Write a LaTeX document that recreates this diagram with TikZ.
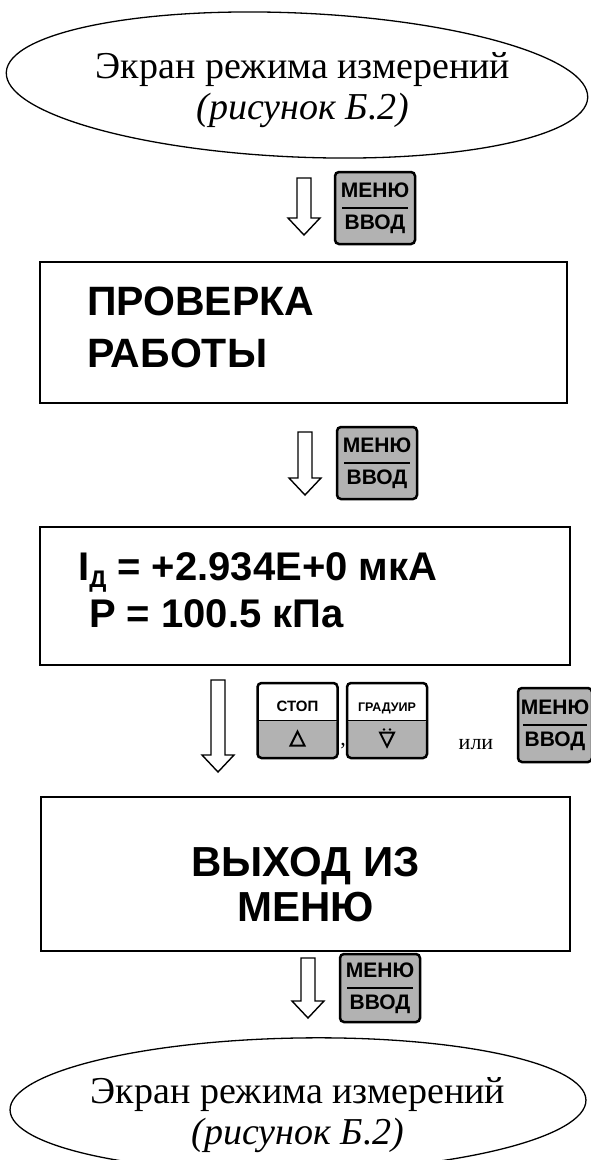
\documentclass[tikz,border=0pt]{standalone}
\usepackage{fontspec}
\setmainfont{Liberation Serif}
\newfontfamily\arialfont{Liberation Sans}
\usetikzlibrary{shapes.geometric,calc}
\definecolor{keygray}{RGB}{178,178,178}

% hollow block arrow pointing down, from #1 (top) to #2 (tip)
\newcommand{\hollowarrow}[2]{%
  \draw[arrowline] ($(#1)+(-7,0)$) -- ($(#2)+(-7,-17)$) -- ($(#2)+(-16,-17)$) -- (#2)
    -- ($(#2)+(16,-17)$) -- ($(#2)+(7,-17)$) -- ($(#1)+(7,0)$) -- cycle;}

\begin{document}
\begin{tikzpicture}[x=1pt, y=-1pt,
    screen/.style={draw, ellipse, line width=1.3pt, inner sep=0pt},
    screentext/.style={align=center, font=\fontsize{38}{41}\selectfont},
    panel/.style={draw, line width=2.8pt, inner sep=0pt},
    paneltext/.style={anchor=base west, inner sep=0pt, font=\arialfont\bfseries\fontsize{41}{41}\selectfont},
    arrowline/.style={line width=1.4pt, line join=miter},
    keyfont/.style={font=\arialfont\bfseries\fontsize{21}{32}\selectfont},
    menukey/.style={draw, line width=2.5pt, rounded corners=4pt, fill=keygray,
      minimum width=80pt, minimum height=72pt, inner sep=0pt, align=center, keyfont},
    splitkey/.style={draw, line width=2.5pt, rounded corners=4pt, fill=white,
      minimum width=80pt, minimum height=75pt, inner sep=0pt,
      path picture={
        \fill[keygray] (path picture bounding box.west) rectangle (path picture bounding box.south east);
        \draw[line width=1pt] (path picture bounding box.west) -- (path picture bounding box.east);}},
    keytop/.style={anchor=base, inner sep=0pt, font=\arialfont\bfseries\fontsize{15}{15}\selectfont}]
    \useasboundingbox (0,0) rectangle (590,1160);

    % top screen
    \node[screen, rotate=-2.5, minimum width=582pt, minimum height=144pt] (start) at (297,85) {};
    \node[screentext] (starttext) at (303,90) {Экран режима измерений\\\textit{(рисунок Б.2)}};

    % step 1
    \coordinate (a1s) at (304,178);
    \coordinate (a1e) at (304,235);
    \hollowarrow{a1s}{a1e}
    \node[menukey] (k1) at (375,208) {МЕНЮ\\ВВОД};
    \draw[line width=2.5pt] ($(k1.center)+(-33,0)$) -- ($(k1.center)+(33,0)$);

    % check screen
    \node[panel, minimum width=527pt, minimum height=141pt] (check) at (303.5,332.5) {};
    \node[paneltext] (check1) at (87,315) {ПРОВЕРКА};
    \node[paneltext] (check2) at (87,367) {РАБОТЫ};

    % step 2
    \coordinate (a2s) at (305,432);
    \coordinate (a2e) at (305,495);
    \hollowarrow{a2s}{a2e}
    \node[menukey] (k2) at (377,463) {МЕНЮ\\ВВОД};
    \draw[line width=2.5pt] ($(k2.center)+(-33,0)$) -- ($(k2.center)+(33,0)$);

    % readings
    \node[panel, minimum width=530pt, minimum height=138pt] (reading) at (305,596) {};
    \node[paneltext, font=\arialfont\bfseries\fontsize{40}{40}\selectfont] (current) at (78,580)
      {I\raisebox{-7pt}{\fontsize{24}{24}\selectfont Д} = +2.934E+0 мкА};
    \node[paneltext, font=\arialfont\bfseries\fontsize{40}{40}\selectfont] (pressure) at (89,627)
      {P = 100.5 кПа};

    % step 3
    \coordinate (a3s) at (218,680);
    \coordinate (a3e) at (218,772);
    \hollowarrow{a3s}{a3e}
    \node[splitkey] (stop) at (297.5,720.5) {};
    \node[keytop] (stoplbl) at ([yshift=9.5pt]stop.center) {СТОП};
    \draw[line width=2pt] ([xshift=-7pt,yshift=-25pt]stop.center) -- ([xshift=7pt,yshift=-25pt]stop.center)
      -- ([yshift=-11pt]stop.center) -- cycle;
    \node[anchor=base, font=\fontsize{22}{22}\selectfont] (comma) at (343,745) {,};
    \node[splitkey] (grad) at (387,720.5) {};
    \node[keytop, font=\arialfont\bfseries\fontsize{12.5}{13}\selectfont] (gradlbl) at ([yshift=9.5pt]grad.center) {ГРАДУИР};
    \draw[line width=2pt] ([xshift=-7pt,yshift=-12pt]grad.center) -- ([xshift=7pt,yshift=-12pt]grad.center)
      -- ([yshift=-26pt]grad.center) -- cycle;
    \fill ([xshift=-3pt,yshift=-9pt]grad.center) circle (1.3pt) ([xshift=3pt,yshift=-9pt]grad.center) circle (1.3pt);
    \node[anchor=base, font=\fontsize{22}{22}\selectfont] (ili) at (476,749) {или};
    \node[menukey, minimum width=74pt, minimum height=74pt] (k3) at (555,725) {МЕНЮ\\ВВОД};
    \draw[line width=2.5pt] ($(k3.center)+(-32,0)$) -- ($(k3.center)+(32,0)$);

    % exit screen
    \node[panel, minimum width=529pt, minimum height=154pt] (exit) at (305.5,874) {};
    \node[paneltext, anchor=base, font=\arialfont\bfseries\fontsize{42}{42}\selectfont] (exit1) at (305.5,876) {ВЫХОД ИЗ};
    \node[paneltext, anchor=base, font=\arialfont\bfseries\fontsize{42}{42}\selectfont] (exit2) at (305.5,921) {МЕНЮ};

    % step 4
    \coordinate (a4s) at (308,958);
    \coordinate (a4e) at (308,1018);
    \hollowarrow{a4s}{a4e}
    \node[menukey, minimum height=68pt] (k4) at (380,988) {МЕНЮ\\ВВОД};
    \draw[line width=2.5pt] ($(k4.center)+(-33,0)$) -- ($(k4.center)+(33,0)$);

    % bottom screen
    \node[screen, rotate=1, minimum width=576pt, minimum height=134pt] (back) at (298,1105) {};
    \node[screentext] (backtext) at (298,1115) {Экран режима измерений\\\textit{(рисунок Б.2)}};
\end{tikzpicture}
\end{document}
